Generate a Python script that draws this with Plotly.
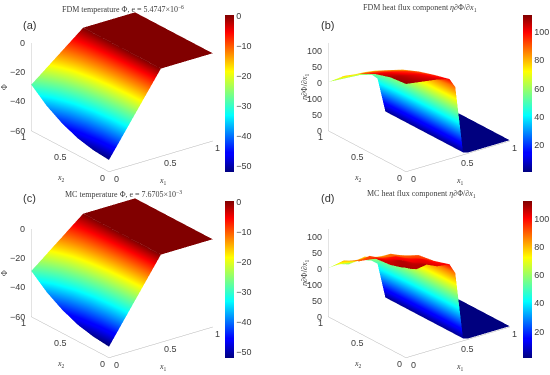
import plotly.graph_objects as go

x2_vals = [0, 0.2, 0.4, 0.6, 0.8, 1]

x1_temp = [0, 0.1, 0.2, 0.3, 0.4, 0.5, 0.6, 0.8, 1]
phi_fdm = [
    [-52.0, -51.0, -48.5, -44.0, -37.5, -28.5],
    [-41.6, -40.8, -38.8, -35.2, -30.0, -22.8],
    [-31.2, -30.6, -29.1, -26.4, -22.5, -17.1],
    [-20.8, -20.4, -19.4, -17.6, -15.0, -11.4],
    [-10.4, -10.2, -9.7, -8.8, -7.5, -5.7],
    [0, 0, 0, 0, 0, 0],
    [0, 0, 0, 0, 0, 0],
    [0, 0, 0, 0, 0, 0],
    [0, 0, 0, 0, 0, 0],
]
phi_mc = [
    [-52.5, -51.3, -48.8, -44.2, -37.7, -28.7],
    [-42.0, -41.0, -39.0, -35.4, -30.2, -23.0],
    [-31.5, -30.8, -29.3, -26.5, -22.6, -17.2],
    [-21.0, -20.5, -19.5, -17.7, -15.1, -11.5],
    [-10.5, -10.3, -9.8, -8.8, -7.5, -5.7],
    [0, 0, 0, 0, 0, 0],
    [0, 0, 0, 0, 0, 0],
    [0, 0, 0, 0, 0, 0],
    [0, 0, 0, 0, 0, 0],
]

x1_flux = [0, 0.1, 0.2, 0.3, 0.42, 0.475, 0.55, 0.6, 0.8, 1]
flux_fdm = [
    [110, 108, 102, 92, 79, 61],
    [108, 106, 100, 90, 77, 60],
    [106, 103, 97, 88, 76, 59],
    [104, 100, 94, 85, 74, 58],
    [100, 95, 89, 81, 70, 54],
    [88, 85, 80, 72, 61, 47],
    [3, 3, 3, 3, 3, 3],
    [1, 1, 1, 1, 1, 1],
    [1, 1, 1, 1, 1, 1],
    [1, 1, 1, 1, 1, 1],
]
flux_mc = [
    [112, 106, 104, 90, 81, 61],
    [107, 108, 99, 93, 75, 62],
    [109, 102, 99, 86, 78, 58],
    [103, 102, 93, 88, 72, 60],
    [101, 95, 92, 81, 71, 54],
    [88, 86, 79, 74, 60, 48],
    [3, 3, 3, 3, 3, 3],
    [1, 1, 1, 1, 1, 1],
    [1, 1, 1, 1, 1, 1],
    [1, 1, 1, 1, 1, 1],
]

phi_ticks = [0, -20, -40, -60]
phi_ticktext = ["0", "−20", "−40", "−60"]
flux_tickvals = [0, 20, 40, 60, 80, 100]
flux_ticktext = ["0", "50", "100", "0", "50", "100"]
cb_phi_ticks = [0, -10, -20, -30, -40, -50]
cb_flux_ticks = [20, 40, 60, 80, 100]
xy_ticks = [0, 0.5, 1]
xy_ticktext = ["0", "0.5", "1"]

jet = [[0, "#00007f"], [0.11, "#0000ff"], [0.125, "#0000ff"], [0.36, "#00ffff"],
       [0.5, "#7fff7f"], [0.64, "#ffff00"], [0.89, "#ff0000"], [1, "#7f0000"]]

W, H = 550, 375
INK = "#404040"
tickf = dict(family="Liberation Sans", size=9, color=INK)
titlef = dict(family="Liberation Serif", size=8, color=INK)
axis_line = "#b5b5b5"
SCALE = 1.41


def scene(cx, cy, zmin, zmax, ztickvals, ztext, ztitle, ztitle_shift):
    half = min(cx, 122)
    halfh = 92

    def common():
        return dict(title=dict(text=""), range=[0, 1], showgrid=False, showticklabels=False,
                    zeroline=False, showbackground=False, showline=True, linecolor=axis_line, linewidth=1,
                    ticks="", showspikes=False)

    notes = []
    x1_shift = [7, 10, 5]
    x2_shift = [-7, -10, -8]
    for v, t, sx, sy in zip(xy_ticks, xy_ticktext, x1_shift, x2_shift):
        notes.append(dict(x=v, y=0, z=zmin, text=t, showarrow=False, xshift=sx, yshift=-7, font=tickf,
                          xanchor="center", yanchor="middle"))
        notes.append(dict(x=0, y=v, z=zmin, text=t, showarrow=False, xshift=sy, yshift=-6, font=tickf,
                          xanchor="center", yanchor="middle"))
    for v, t in zip(ztickvals, ztext):
        notes.append(dict(x=0, y=1, z=v, text=t, showarrow=False, xshift=-4, font=tickf,
                          xanchor="right", yanchor="middle"))
    notes.append(dict(x=0.5, y=0, z=zmin, text="<i>x</i><sub>1</sub>", showarrow=False, xshift=2, yshift=-25,
                      font=titlef, xanchor="center", yanchor="middle"))
    notes.append(dict(x=0, y=0.5, z=zmin, text="<i>x</i><sub>2</sub>", showarrow=False, xshift=-9, yshift=-27,
                      font=titlef, xanchor="center", yanchor="middle"))
    notes.append(dict(x=0, y=1, z=(zmin + zmax) / 2, text=ztitle, showarrow=False, xshift=ztitle_shift, textangle=-90,
                      font=titlef, xanchor="center", yanchor="middle"))

    return dict(
        domain=dict(x=[(cx - half) / W, (cx + half) / W], y=[1 - (cy + halfh) / H, 1 - (cy - halfh) / H]),
        xaxis=common(),
        yaxis=common(),
        zaxis=dict(title=dict(text=""), range=[zmin, zmax], showticklabels=False, showgrid=False, zeroline=False,
                   showbackground=False, showline=True, linecolor=axis_line, ticks="", showspikes=False),
        aspectmode="manual",
        aspectratio=dict(x=SCALE, y=SCALE, z=0.736 * SCALE),
        camera=dict(eye=dict(x=-0.551 * 1.8, y=-0.735 * 1.8, z=0.395 * 1.8),
                    center=dict(x=0, y=0, z=0), up=dict(x=0, y=0, z=1),
                    projection=dict(type="orthographic")),
        annotations=notes,
    )


fig = go.Figure()


def surf(x1, z, sc, cmin, cmax, cbx, cby, ticks):
    fig.add_trace(go.Surface(
        x=x1, y=x2_vals, z=[list(r) for r in zip(*z)], scene=sc, colorscale=jet, cmin=cmin, cmax=cmax,
        lighting=dict(ambient=1, diffuse=0, specular=0, fresnel=0, roughness=1), showscale=True, hoverinfo="skip",
        contours=dict(x=dict(highlight=False), y=dict(highlight=False), z=dict(highlight=False)),
        colorbar=dict(x=cbx / W, xanchor="left", y=1 - cby / H, yanchor="top", len=157 / H, lenmode="fraction",
                      thickness=9, thicknessmode="pixels", tickvals=ticks, tickfont=dict(family="Liberation Sans", size=9, color=INK),
                      outlinewidth=0, ticks="", xpad=0, ypad=0, ticklen=0),
    ))


surf(x1_temp, phi_fdm, "scene", -52, 0.2, 225, 15, cb_phi_ticks)
surf(x1_flux, flux_fdm, "scene2", 1, 112, 523, 15, cb_flux_ticks)
surf(x1_temp, phi_mc, "scene3", -52, 0.2, 225, 201, cb_phi_ticks)
surf(x1_flux, flux_mc, "scene4", 1, 113, 523, 201, cb_flux_ticks)

titles = [(123, 9, "FDM temperature Φ, e = 5.4747×10<sup>−6</sup>"),
          (420, 8, "FDM heat flux component <i>η∂</i>Φ/∂<i>x</i><sub>1</sub>"),
          (123, 194, "MC temperature Φ, e = 7.6705×10<sup>−3</sup>"),
          (422, 194, "MC heat flux component <i>η∂</i>Φ/∂<i>x</i><sub>1</sub>")]
labels = [(29, 25, "(a)"), (327, 25, "(b)"), (29, 198, "(c)"), (327, 198, "(d)")]
ann = [dict(x=x / W, y=1 - y / H, xref="paper", yref="paper", text=t, showarrow=False,
            xanchor="center", yanchor="middle",
            font=dict(family="Liberation Serif", size=8, color=INK)) for x, y, t in titles]
ann += [dict(x=x / W, y=1 - y / H, xref="paper", yref="paper", text=t, showarrow=False,
             xanchor="center", yanchor="middle",
             font=dict(family="Liberation Sans", size=11, color="#333333")) for x, y, t in labels]

phi_title = "Φ"
flux_title = "<i>η∂</i>Φ/∂<i>x</i><sub>1</sub>"

fig.update_layout(
    width=W, height=H, margin=dict(l=0, r=0, t=0, b=0, autoexpand=False), paper_bgcolor="white", showlegend=False,
    scene=scene(122, 92, -60, 0, phi_ticks, phi_ticktext, phi_title, -26),
    scene2=scene(419, 92, 0, 110, flux_tickvals, flux_ticktext, flux_title, -23),
    scene3=scene(122, 278, -60, 0, phi_ticks, phi_ticktext, phi_title, -26),
    scene4=scene(419, 278, 0, 110, flux_tickvals, flux_ticktext, flux_title, -23),
    annotations=ann,
)
fig.write_html("out.html", config=dict(displayModeBar=False),
               post_script="document.body.style.margin='0';document.body.style.overflow='hidden';")
